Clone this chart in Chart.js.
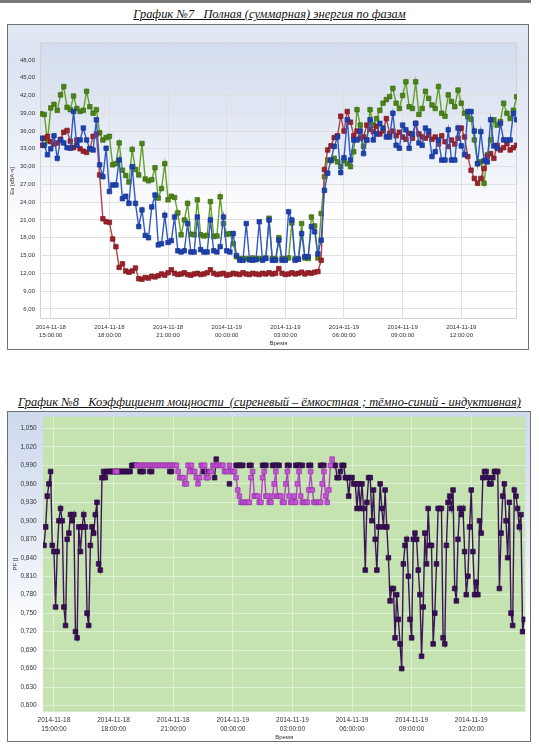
<!DOCTYPE html>
<html>
<head>
<meta charset="utf-8">
<title>График №7 / График №8</title>
<script src="https://cdn.jsdelivr.net/npm/chart.js"></script>
<style>
  body { margin: 0; background: #fff; width: 539px; height: 754px; position: relative; overflow: hidden; }
  .topbar { position: absolute; left: 0; top: 0; width: 531px; height: 3px; background: #7b7b7b; }
  .title { position: absolute; left: 0; width: 539px; text-align: center; white-space: nowrap;
           font-family: "Liberation Serif", serif; font-style: italic; font-size: 12.4px; line-height: 15px;
           text-decoration: underline; color: #111; }
  .frame { position: absolute; border: 1px solid #707070; }
  #frame1 { left: 7px; top: 24px; width: 520px; height: 324px;
            background: linear-gradient(#e3e9f4 0%, #dbe3f1 10%, #e9eef7 35%, #fafbfd 58%, #fff 66%, #fff 100%); }
  #frame2 { left: 7px; top: 411px; width: 522px; height: 329px;
            background: linear-gradient(#cfdaef 0%, #dfe6f3 30%, #f3f6fb 55%, #fff 65%, #fff 100%); }
  canvas { display: block; }
</style>
</head>
<body>
<div class="topbar"></div>
<div class="title" style="top:7px">График №7&nbsp;&nbsp; Полная (суммарная) энергия по фазам</div>
<div class="frame" id="frame1"><canvas id="energyChart" width="520" height="324"></canvas></div>
<div class="title" style="top:395px">График №8&nbsp;&nbsp; Коэффициент мощности&nbsp; (сиреневый – ёмкостная ; тёмно-синий - индуктивная)</div>
<div class="frame" id="frame2"><canvas id="pfChart" width="522" height="329"></canvas></div>

<script>
const _ = null;

// time axis: hours counted from 2014-11-18 15:00
const tickHours = [0, 3, 6, 9, 12, 15, 18, 21];
const tickDates = ['2014-11-18', '2014-11-18', '2014-11-18', '2014-11-19', '2014-11-19', '2014-11-19', '2014-11-19', '2014-11-19'];
const tickTimes = ['15:00:00', '18:00:00', '21:00:00', '00:00:00', '03:00:00', '06:00:00', '09:00:00', '12:00:00'];

// График №7 — 10 min readings from 14:30
const energyStart = -0.5;
const energyStep = 1 / 6;
const energyTicks = [6, 9, 12, 15, 18, 21, 24, 27, 30, 33, 36, 39, 42, 45, 48];

const redPhase = [
  33.6, 34.8, 35.1, 34.2, 33.8, 34.0, 34.6, 35.8, 36.1, 34.3,
  33.2, 34.5, 33.0, 32.6, 32.4, 33.0, 35.1, 35.5, 28.6, 21.2,
  20.7, 20.6, 17.8, 16.5, 13.0, 13.6, 12.4, 12.2, 12.4, 12.9,
  11.1, 11.0, 11.3, 11.2, 11.5, 11.4, 11.6, 11.9, 11.7, 12.1,
  12.6, 12.0, 11.8, 11.9, 12.1, 11.8, 11.7, 11.9, 12.0, 11.8,
  11.9, 12.1, 12.6, 12.0, 11.8, 11.9, 12.0, 11.7, 11.8, 12.0,
  11.9, 11.8, 12.1, 11.9, 11.8, 12.0, 11.9, 11.8, 12.0, 11.9,
  12.1, 11.9, 12.0, 12.8, 12.0, 11.8, 11.9, 12.1, 11.9, 12.0,
  12.2, 11.9, 12.1, 12.0, 12.2, 12.3, 14.2, 29.5, 32.8, 33.5,
  34.9, 35.2, 38.5, 36.0, 39.3, 37.5, 35.2, 36.0, 34.8, 35.0,
  37.0, 36.3, 35.9, 36.8, 35.5, 36.0, 38.1, 35.6, 36.0, 35.2,
  35.8, 35.0, 34.6, 35.6, 34.8, 37.3, 35.5, 35.0, 34.8, 35.3,
  34.6, 35.0, 33.8, 35.2, 34.2, 33.4, 34.5, 33.8, 34.8, 36.5,
  35.0, 31.7, 29.4, 28.0, 27.2, 28.0, 29.7, 31.7, 32.2, 31.4,
  33.6, 32.8, 33.2, 33.9, 32.8, 33.2, 33.6
];
const greenPhase = [
  38.9, 38.8, 34.4, 39.9, 40.5, 39.5, 42.1, 43.5, 40.0, 39.6,
  41.9, 39.8, 39.3, 39.5, 42.7, 40.1, 39.0, 39.6, 35.7, 34.5,
  34.9, 35.1, 30.3, 30.5, 34.0, 29.4, 28.5, 27.4, 32.9, 29.5,
  28.6, 33.9, 27.9, 27.6, 27.8, 29.8, 24.7, 26.3, 30.5, 24.4,
  25.0, 24.8, 22.2, 18.5, 21.0, 23.8, 18.6, 18.5, 24.4, 18.5,
  18.3, 18.4, 24.1, 18.2, 18.3, 24.9, 20.4, 18.6, 18.7, 17.0,
  14.8, 14.5, 14.4, 14.5, 14.3, 14.6, 14.4, 14.5, 14.4, 14.6,
  21.3, 14.5, 14.4, 18.0, 14.5, 14.4, 14.6, 20.5, 14.5, 14.4,
  20.4, 14.6, 14.5, 21.5, 20.0, 14.6, 22.1, 28.3, 31.1, 31.0,
  31.4, 30.8, 30.0, 31.0, 30.5, 30.0, 32.5, 39.6, 37.0, 33.4,
  34.5, 39.6, 37.0, 38.1, 39.5, 40.7, 41.3, 41.8, 43.2, 40.7,
  39.8, 42.0, 44.3, 40.1, 39.8, 44.3, 38.8, 39.8, 42.7, 41.5,
  40.4, 39.8, 43.5, 39.0, 38.5, 42.1, 41.0, 40.1, 42.9, 40.7,
  39.0, 38.4, 38.0, 34.5, 30.5, 30.8, 27.2, 32.0, 34.5, 37.9,
  37.0, 37.6, 40.7, 39.0, 38.1, 39.5, 41.8
];
const bluePhase = [
  34.8, 33.6, 32.0, 33.0, 35.2, 31.4, 34.5, 34.0, 33.2, 33.1,
  39.3, 33.6, 34.5, 36.5, 34.5, 33.0, 32.8, 37.9, 30.3, 28.3,
  33.1, 25.8, 26.9, 26.9, 31.1, 24.6, 25.0, 23.8, 30.0, 23.8,
  19.9, 22.7, 18.4, 18.0, 23.2, 25.2, 16.8, 17.0, 21.8, 17.2,
  17.5, 21.5, 15.8, 15.6, 15.8, 20.4, 15.6, 15.6, 21.5, 16.0,
  15.6, 15.6, 21.0, 15.8, 15.6, 16.5, 21.5, 15.8, 15.6, 18.7,
  15.0, 14.2, 14.2, 20.4, 14.3, 14.2, 14.3, 20.7, 14.2, 14.5,
  21.0, 14.2, 14.2, 17.6, 14.2, 14.2, 22.4, 21.0, 14.2, 14.4,
  18.7, 14.8, 14.8, 19.9, 19.0, 15.3, 17.6, 26.0, 28.9, 31.1,
  33.4, 35.0, 29.0, 31.5, 37.9, 31.1, 34.5, 34.5, 36.0, 32.2,
  34.5, 37.9, 34.5, 35.5, 37.3, 36.5, 35.0, 35.0, 39.0, 33.6,
  33.1, 37.0, 36.2, 33.1, 35.5, 37.3, 34.0, 33.6, 36.5, 36.0,
  31.7, 32.5, 34.5, 31.1, 31.1, 36.2, 31.1, 31.1, 36.5, 33.5,
  32.0, 39.3, 39.3, 36.0, 30.5, 35.9, 31.0, 30.8, 37.9, 33.5,
  33.1, 37.3, 34.5, 34.5, 34.5, 39.0, 37.9
];

// График №8 — 5 min readings from 14:30
const pfStart = -0.5;
const pfStep = 1 / 12;
const pfTicks = [0.6, 0.63, 0.66, 0.69, 0.72, 0.75, 0.78, 0.81, 0.84, 0.87, 0.9, 0.93, 0.96, 0.99, 1.02, 1.05];

const pfInductive = [
  0.86, 0.89, 0.94, 0.96, 0.98, 0.86, 0.85, 0.76, 0.85, 0.90,
  0.92, 0.90, 0.76, 0.73, 0.87, 0.88, 0.91, 0.90, 0.91, 0.72,
  0.71, 0.89, 0.85, 0.89, 0.91, 0.89, 0.75, 0.73, 0.86, 0.89,
  0.88, 0.91, 0.93, 0.83, 0.82, 0.97, 0.98, 0.97, 0.98, 0.98,
  0.98, 0.98, 0.98, 0.98, 0.98, 0.98, 0.98, 0.98, 0.98, 0.98,
  0.98, 0.98, 0.98, 0.99, 0.99, 0.99, 0.99, _, 0.98, 0.98,
  0.98, _, _, _, 0.98, 0.98, _, _, _, _,
  _, _, _, _, _, _, 0.98, 0.98, _, _,
  _, _, _, _, _, _, _, _, _, _,
  _, _, _, _, _, _, 0.98, 0.98, 0.98, _,
  _, _, _, 0.97, 1.00, _, _, _, _, _,
  _, _, 0.96, _, _, _, 0.99, 0.99, 0.99, 0.99,
  0.99, _, _, _, 0.99, 0.99, _, _, _, _,
  _, _, 0.99, 0.99, 0.99, _, _, _, 0.99, 0.99,
  0.99, 0.99, 0.99, _, _, _, _, 0.99, 0.99, _,
  _, _, 0.99, 0.99, 0.99, 0.99, 0.99, _, _, _,
  0.99, 0.99, _, _, _, _, _, 0.99, 0.99, 0.99,
  _, _, _, _, _, 0.99, 0.99, 0.97, 0.97, 0.98,
  0.99, 0.99, 0.97, 0.97, 0.94, 0.97, 0.97, 0.96, 0.96, 0.92,
  0.96, 0.92, 0.96, 0.92, 0.82, 0.93, 0.97, 0.97, 0.90, 0.95,
  0.87, 0.82, 0.89, 0.96, 0.92, 0.89, 0.95, 0.89, 0.84, 0.77,
  0.79, 0.79, 0.71, 0.78, 0.74, 0.70, 0.66, 0.83, 0.86, 0.87,
  0.81, 0.74, 0.71, 0.87, 0.88, 0.87, 0.82, 0.78, 0.68, 0.76,
  0.88, 0.83, 0.92, 0.86, 0.86, 0.70, 0.75, 0.83, 0.92, 0.92,
  0.92, 0.71, 0.70, 0.86, 0.93, 0.94, 0.92, 0.95, 0.79, 0.77,
  0.87, 0.92, 0.91, 0.92, 0.85, 0.78, 0.81, 0.89, 0.95, 0.85,
  0.78, 0.80, 0.78, 0.90, 0.88, 0.97, 0.98, 0.98, 0.97, 0.96,
  0.96, 0.97, 0.98, 0.98, 0.98, 0.79, 0.88, 0.94, 0.96, 0.90,
  0.84, 0.93, 0.75, 0.73, 0.95, 0.94, 0.92, 0.89, 0.91, 0.72,
  0.74
];

// capacitive readings, 18:05 .. 04:55 (index 43 of the 5 min grid onwards)
const pfCapacitiveFrom = 43;
const pfCapacitive = [
  0.98, 0.98, _, _, _, _, _, _, _, _,
  _, _, _, 0.99, 0.99, 0.99, 0.99, 0.99, 0.99, 0.99,
  0.99, 0.99, 0.99, 0.99, 0.99, 0.99, 0.99, 0.99, 0.99, 0.99,
  0.99, 0.99, 0.99, 0.99, 0.99, 0.99, 0.99, 0.99, 0.98, 0.97,
  0.97, 0.97, 0.96, 0.96, 0.99, 0.98, 0.99, 0.98, 0.98, 0.97,
  0.96, 0.97, 0.99, 0.99, 0.99, 0.97, 0.97, 0.98, 0.98, 0.99,
  0.99, 0.99, 0.99, 0.99, 0.99, 0.99, 0.98, 0.98, 0.98, 0.99,
  0.98, 0.98, 0.98, 0.97, 0.95, 0.94, 0.93, 0.93, 0.93, 0.93,
  0.93, 0.93, 0.97, 0.98, 0.94, 0.94, 0.94, 0.93, 0.93, 0.97,
  0.98, 0.94, 0.94, 0.93, 0.93, 0.94, 0.96, 0.98, 0.94, 0.94,
  0.94, 0.93, 0.93, 0.96, 0.98, 0.94, 0.93, 0.93, 0.94, 0.93,
  0.96, 0.98, 0.94, 0.93, 0.93, 0.93, 0.93, 0.95, 0.98, 0.95,
  0.93, 0.93, 0.93, 0.93, 0.93, 0.96, 0.98, 0.94, 0.93, 0.95,
  0.99, 1.00
];

const comma = (v, d) => v.toFixed(d).replace('.', ',');
const toPoints = (values, start, step, offset = 0) =>
  values.map((v, i) => ({ x: start + (offset + i) * step, y: v }));

// paints the plot area and its thin border
const plotBackground = {
  id: 'plotBackground',
  beforeDraw(chart, args, opts) {
    const { ctx, chartArea: a } = chart;
    ctx.save();
    if (opts.stops) {
      const g = ctx.createLinearGradient(0, a.top, 0, a.bottom);
      opts.stops.forEach(s => g.addColorStop(s[0], s[1]));
      ctx.fillStyle = g;
    } else {
      ctx.fillStyle = opts.color;
    }
    ctx.fillRect(a.left, a.top, a.right - a.left, a.bottom - a.top);
    if (opts.border) {
      ctx.strokeStyle = opts.border;
      ctx.lineWidth = 1;
      ctx.strokeRect(a.left + 0.5, a.top + 0.5, a.right - a.left - 1, a.bottom - a.top - 1);
    }
    ctx.restore();
  }
};

function timeAxis(max, fontSize, height, gridColor, titlePad) {
  return {
    type: 'linear',
    min: -0.55,
    max: max,
    afterBuildTicks: s => { s.ticks = tickHours.map(h => ({ value: h })); },
    afterFit: s => { s.height = height; },
    grid: { color: gridColor, drawTicks: false },
    border: { display: false },
    ticks: {
      padding: 4.4, autoSkip: false, maxRotation: 0, color: '#333',
      font: { family: 'Liberation Sans', size: fontSize, lineHeight: 1.3 },
      callback: (v, i) => [tickDates[i], tickTimes[i]]
    },
    title: {
      display: true, text: 'Время', color: '#333',
      font: { family: 'Liberation Sans', size: 6, lineHeight: 1.2 },
      padding: { top: 0, bottom: titlePad }
    }
  };
}

function valueAxis(min, max, values, digits, label, width, fontSize, gridColor, pad, titlePad) {
  return {
    min: min,
    max: max,
    afterBuildTicks: s => { s.ticks = values.map(v => ({ value: v })); },
    afterFit: s => { s.width = width; s.paddingTop = 0; s.paddingBottom = 0; },
    grid: { color: gridColor, drawTicks: false },
    border: { display: false },
    ticks: {
      padding: pad, color: '#333',
      font: { family: 'Liberation Sans', size: fontSize },
      callback: v => comma(v, digits)
    },
    title: {
      display: true, text: label, color: '#333',
      font: { family: 'Liberation Sans', size: 6, lineHeight: 1.3 },
      padding: { top: titlePad, bottom: 0 }
    }
  };
}

function series(points, line, mark, edge, radius) {
  return {
    data: points,
    borderColor: line,
    borderWidth: 1.4,
    pointStyle: 'rect',
    pointRadius: radius,
    pointBackgroundColor: mark,
    pointBorderColor: edge,
    pointBorderWidth: 0.7,
    tension: 0,
    spanGaps: false
  };
}

new Chart(document.getElementById('energyChart'), {
  type: 'line',
  data: {
    datasets: [
      series(toPoints(bluePhase, energyStart, energyStep), '#3157c4', '#1d41ae', '#15338f', 3.2),
      series(toPoints(redPhase, energyStart, energyStep), '#b2434a', '#9c222b', '#7e1820', 3.2),
      series(toPoints(greenPhase, energyStart, energyStep), '#64a028', '#4d8417', '#3b6a0e', 3.2)
    ]
  },
  options: {
    responsive: false,
    animation: false,
    events: [],
    devicePixelRatio: 1,
    layout: { padding: { top: 17.7, right: 11, left: 0, bottom: 0 } },
    plugins: {
      legend: { display: false },
      tooltip: { enabled: false },
      plotBackground: {
        stops: [[0, '#d3ddf0'], [0.25, '#e0e7f3'], [0.5, '#f3f6fb'], [0.62, '#ffffff'], [1, '#ffffff']],
        border: '#d2d2d2'
      }
    },
    scales: {
      x: timeAxis(23.85, 6, 30, 'rgba(222,222,222,0.9)', 2.1),
      y: valueAxis(4.3, 50.9, energyTicks, 2, 'Es [кВА·ч]', 32, 6, 'rgba(222,222,222,0.9)', 5, 0.1)
    }
  },
  plugins: [plotBackground]
});

new Chart(document.getElementById('pfChart'), {
  type: 'line',
  data: {
    datasets: [
      series(toPoints(pfCapacitive, pfStart, pfStep, pfCapacitiveFrom), '#b543c9', '#c654d8', '#9630a8', 3.3),
      series(toPoints(pfInductive, pfStart, pfStep), '#3d1558', '#3a0f58', '#2a0842', 3.3)
    ]
  },
  options: {
    responsive: false,
    animation: false,
    events: [],
    devicePixelRatio: 1,
    layout: { padding: { top: 1, right: 2, left: 0, bottom: 0 } },
    plugins: {
      legend: { display: false },
      tooltip: { enabled: false },
      plotBackground: { color: '#c4e3b1' }
    },
    scales: {
      x: timeAxis(23.72, 6.5, 29.3, 'rgba(232,244,225,0.75)', 0),
      y: valueAxis(0.59, 1.069, pfTicks, 3, 'PF []', 35, 6.5, 'rgba(232,244,225,0.75)', 6.3, 3.6)
    }
  },
  plugins: [plotBackground]
});
</script>
</body>
</html>
